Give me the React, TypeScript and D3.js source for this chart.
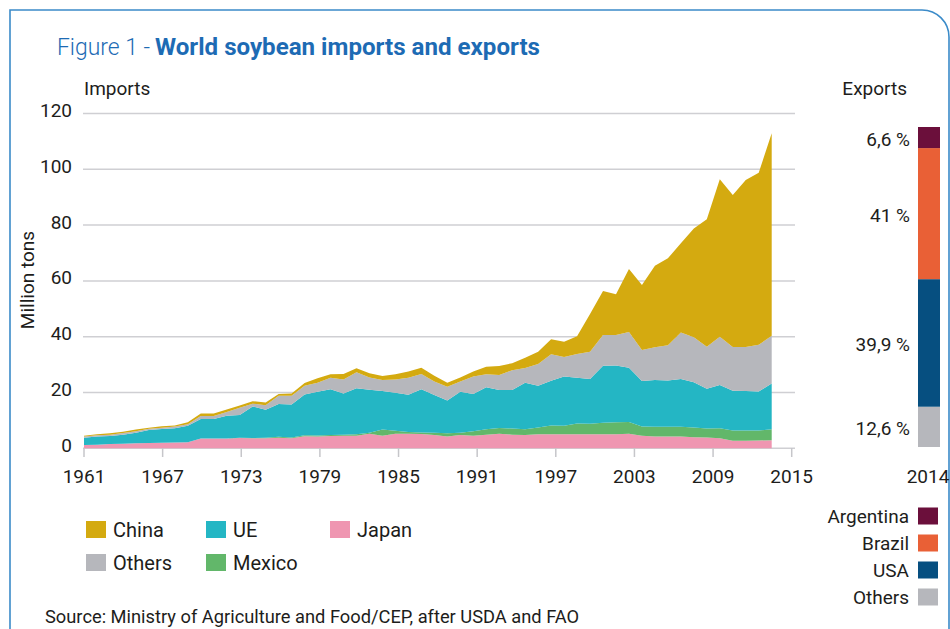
import React from "react";
import * as d3 from "d3";

// Import years, one value per year
const years = [
  1961, 1962, 1963, 1964, 1965, 1966, 1967, 1968, 1969, 1970,
  1971, 1972, 1973, 1974, 1975, 1976, 1977, 1978, 1979, 1980,
  1981, 1982, 1983, 1984, 1985, 1986, 1987, 1988, 1989, 1990,
  1991, 1992, 1993, 1994, 1995, 1996, 1997, 1998, 1999, 2000,
  2001, 2002, 2003, 2004, 2005, 2006, 2007, 2008, 2009, 2010,
  2011, 2012, 2013, 2014,
];

// Imports by country, million tons
const japan = [
  1.2, 1.3, 1.5, 1.6, 1.8, 1.9, 2.0, 2.1, 2.2, 3.5,
  3.5, 3.5, 3.7, 3.6, 3.6, 3.8, 3.6, 4.3, 4.2, 4.4,
  4.5, 4.5, 5.2, 4.5, 5.2, 5.2, 5.1, 4.8, 4.2, 4.8,
  4.5, 4.9, 5.2, 4.9, 4.8, 5.0, 5.0, 5.0, 5.0, 5.0,
  5.0, 5.0, 5.2, 4.5, 4.2, 4.2, 4.2, 4.0, 3.9, 3.6,
  2.7, 2.7, 2.8, 2.9,
];
const mexico = [
  0, 0, 0, 0, 0, 0, 0, 0, 0, 0,
  0, 0, 0.1, 0.1, 0.2, 0.3, 0.3, 0.4, 0.4, 0.4,
  0.4, 0.5, 0.4, 2.2, 1.1, 0.6, 0.6, 0.8, 1.2, 0.8,
  1.6, 1.9, 2.1, 2.2, 2.0, 2.5, 3.2, 3.1, 3.9, 3.8,
  4.2, 4.3, 4.2, 3.3, 3.5, 3.5, 3.5, 3.5, 3.2, 3.6,
  3.7, 3.7, 3.6, 3.9,
];
const ue = [
  2.6, 2.9, 2.9, 3.3, 3.8, 4.7, 4.9, 5.1, 5.9, 7.0,
  7.0, 8.2, 8.1, 11.3, 10.0, 11.8, 11.8, 14.6, 15.7, 16.4,
  14.7, 16.5, 15.4, 13.8, 13.6, 13.4, 15.5, 13.5, 11.7, 14.7,
  13.4, 15.1, 13.6, 13.8, 16.7, 14.9, 16.0, 17.6, 16.4, 16.0,
  20.4, 20.4, 19.5, 16.3, 16.8, 16.6, 17.1, 16.2, 14.2, 15.5,
  14.2, 14.1, 14.0, 16.4,
];
const others = [
  0.4, 0.5, 0.5, 0.6, 0.5, 0.4, 0.5, 0.6, 0.5, 1.1,
  1.1, 1.3, 2.6, 1.0, 1.6, 2.9, 3.1, 3.1, 3.2, 4.1,
  5.1, 5.8, 4.4, 4.0, 4.8, 6.1, 5.4, 4.8, 5.0, 3.6,
  6.2, 4.6, 5.4, 7.1, 5.3, 7.8, 9.5, 7.0, 8.5, 9.8,
  11.0, 10.9, 12.8, 11.1, 11.7, 12.6, 16.7, 16.1, 15.1, 17.3,
  15.7, 15.8, 16.7, 17.1,
];
const china = [
  0.3, 0.3, 0.5, 0.4, 0.6, 0.4, 0.5, 0.4, 0.7, 0.9,
  0.9, 0.9, 0.8, 0.9, 1.0, 0.7, 0.8, 1.0, 1.6, 1.2,
  1.9, 1.4, 1.5, 1.4, 1.8, 2.2, 2.3, 2.1, 1.4, 1.5,
  1.8, 2.7, 3.2, 2.5, 3.7, 4.4, 5.4, 5.5, 6.4, 13.5,
  15.8, 14.6, 22.6, 23.3, 29.2, 31.2, 32.0, 39.0, 45.7, 56.4,
  54.5, 59.9, 61.7, 72.6,
];

// Axis labels
const xTickYears = [1961, 1967, 1973, 1979, 1985, 1991, 1997, 2003, 2009, 2015];
const yTicks = [0, 20, 40, 60, 80, 100, 120];

// 2014 export shares, percent (bottom to top)
const exportNames = ["Others", "USA", "Brazil", "Argentina"];
const exportShares = [12.6, 39.9, 41, 6.6];
const exportShareLabels = ["12,6 %", "39,9 %", "41 %", "6,6 %"];

const importKeys = ["japan", "mexico", "ue", "others", "china"];
const importColors: Record<string, string> = {
  china: "#d4aa10",
  ue: "#24b6c4",
  japan: "#ef96b1",
  others: "#b6b7bc",
  mexico: "#62b76a",
};
const exportColors: Record<string, string> = {
  Argentina: "#6b0f3b",
  Brazil: "#e96036",
  USA: "#064f80",
  Others: "#b6b7bc",
};

const importLegend = [
  { key: "china", label: "China", col: 0, row: 0 },
  { key: "ue", label: "UE", col: 1, row: 0 },
  { key: "japan", label: "Japan", col: 2, row: 0 },
  { key: "others", label: "Others", col: 0, row: 1 },
  { key: "mexico", label: "Mexico", col: 1, row: 1 },
];
const exportLegend = ["Argentina", "Brazil", "USA", "Others"];

const FONT = "Roboto, 'Open Sans', sans-serif";
const TEXT = "#1d1d1b";

export default function App() {
  const rows = years.map((year, i) => ({
    year,
    japan: japan[i],
    mexico: mexico[i],
    ue: ue[i],
    others: others[i],
    china: china[i],
  }));

  const stack = d3.stack<any>().keys(importKeys);
  const layers = stack(rows);

  const xData = d3.scaleLinear().domain([1961, 2014]).range([84, 771.7]);
  const xAxis = d3.scaleLinear().domain([1961, 2015]).range([84, 791.7]);
  const y = d3.scaleLinear().domain([0, 120]).range([448.3, 113.5]);

  const area = d3
    .area<any>()
    .x((d) => xData(d.data.year))
    .y0((d) => y(d[0]))
    .y1((d) => y(d[1]));

  // Export bar
  const total = d3.sum(exportShares);
  const yBar = d3.scaleLinear().domain([0, total]).range([447, 127]);
  const cum = d3.cumsum(exportShares);
  const segs = exportNames.map((name, i) => ({
    name,
    lo: cum[i] - exportShares[i],
    hi: cum[i],
    label: exportShareLabels[i],
  }));

  const legendX = [86, 206, 330];
  const legendY = [529.5, 562.5];

  return (
    <svg
      width={950}
      height={629}
      style={{ position: "absolute", left: 0, top: 0, background: "#fff" }}
      fontFamily={FONT}
    >
      {/* frame */}
      <path
        d="M10,629 V10 H922 A27,27 0 0 1 949,37 V629"
        fill="none"
        stroke="#3b8bc9"
        strokeWidth={1.6}
      />

      {/* title */}
      <text x={57} y={55} fontSize={24} fill="#1d6bb4" fontWeight={300}>
        <tspan textLength={93} lengthAdjust="spacingAndGlyphs">Figure 1 -</tspan>
        <tspan x={155} fontWeight={700} textLength={385} lengthAdjust="spacingAndGlyphs">
          World soybean imports and exports
        </tspan>
      </text>

      <text x={84} y={95} fontSize={19} fill={TEXT}>Imports</text>
      <text x={907} y={95} fontSize={19} fill={TEXT} textAnchor="end">Exports</text>

      {/* y grid and labels */}
      {yTicks.map((t) => (
        <g key={t}>
          <line x1={83} x2={795} y1={y(t)} y2={y(t)} stroke="#cfcfd3" strokeWidth={1.5} />
          <text
            x={72}
            y={y(t) - 3}
            fontSize={19}
            fill={TEXT}
            textAnchor="end"
            dominantBaseline="central"
          >
            {t}
          </text>
        </g>
      ))}
      <text
        transform={`translate(27,280) rotate(-90)`}
        fontSize={19}
        fill={TEXT}
        textAnchor="middle"
        dominantBaseline="central"
      >
        Million tons
      </text>

      {/* stacked import areas */}
      {layers.map((layer) => (
        <path key={layer.key} d={area(layer) || ""} fill={importColors[layer.key]} />
      ))}

      {/* x ticks and labels */}
      {xTickYears.map((yr) => (
        <g key={yr}>
          <line
            x1={xAxis(yr)}
            x2={xAxis(yr)}
            y1={448}
            y2={457}
            stroke="#c6c6ca"
            strokeWidth={1.5}
          />
          <text
            x={xAxis(yr)}
            y={476}
            fontSize={19}
            fill={TEXT}
            textAnchor="middle"
            dominantBaseline="central"
          >
            {yr}
          </text>
        </g>
      ))}

      {/* export bar */}
      {segs.map((s) => (
        <g key={s.name}>
          <rect
            x={918}
            width={22}
            y={yBar(s.hi)}
            height={yBar(s.lo) - yBar(s.hi)}
            fill={exportColors[s.name]}
          />
          <text
            x={910}
            y={(yBar(s.hi) + yBar(s.lo)) / 2 + 2}
            fontSize={19}
            fill={TEXT}
            textAnchor="end"
            dominantBaseline="central"
          >
            {s.label}
          </text>
        </g>
      ))}
      <text x={928} y={476} fontSize={19} fill={TEXT} textAnchor="middle" dominantBaseline="central">
        2014
      </text>

      {/* import legend */}
      {importLegend.map((l) => (
        <g key={l.key}>
          <rect
            x={legendX[l.col]}
            y={legendY[l.row] - 8.5}
            width={20}
            height={17}
            fill={importColors[l.key]}
          />
          <text
            x={legendX[l.col] + 27}
            y={legendY[l.row]}
            fontSize={20}
            fill={TEXT}
            dominantBaseline="central"
          >
            {l.label}
          </text>
        </g>
      ))}

      {/* export legend */}
      {exportLegend.map((name, i) => {
        const cy = 516 + i * 27;
        return (
          <g key={name}>
            <rect x={918} y={cy - 8.5} width={20} height={17} fill={exportColors[name]} />
            <text
              x={909}
              y={cy}
              fontSize={19}
              fill={TEXT}
              textAnchor="end"
              dominantBaseline="central"
            >
              {name}
            </text>
          </g>
        );
      })}

      <text x={45} y={616} fontSize={18.3} fill={TEXT} dominantBaseline="central">
        Source: Ministry of Agriculture and Food/CEP, after USDA and FAO
      </text>
    </svg>
  );
}
